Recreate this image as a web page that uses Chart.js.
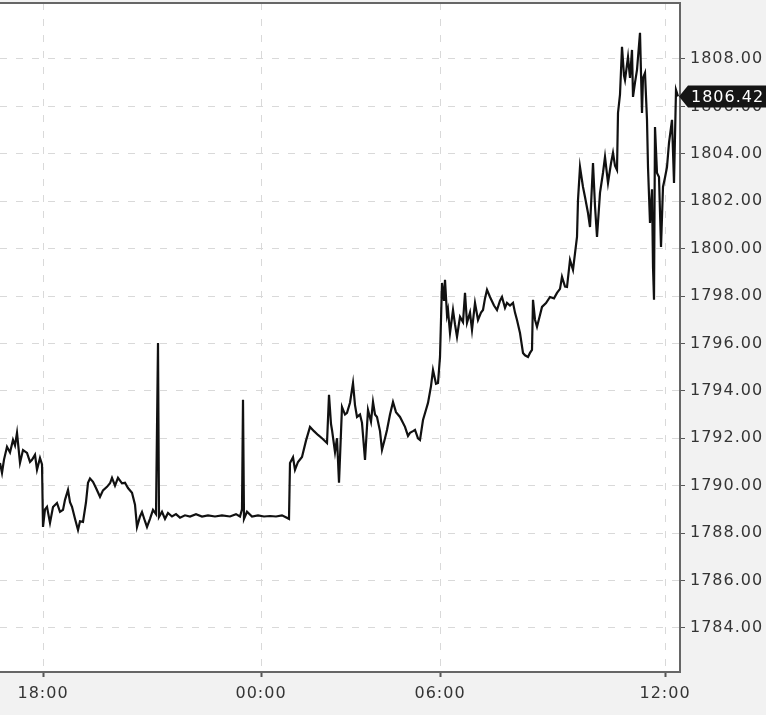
<!DOCTYPE html>
<html>
<head>
<meta charset="utf-8">
<script src="https://cdn.jsdelivr.net/npm/chart.js@4.4.1/dist/chart.umd.min.js"></script>
<style>
  body { margin: 0; background: #f2f2f2; }
  #priceChart { display: block; }
</style>
</head>
<body>
<canvas id="priceChart" width="766" height="715"></canvas>
<script>
// bar number along the session (x) and traded price at that bar
const barIndex = [
  0, 2, 4, 7, 10, 13, 15, 17, 20, 23, 27, 30, 32, 35, 37, 40, 42, 43, 45, 47,
  50, 53, 57, 60, 63, 65, 68, 70, 72, 75, 78, 80, 83, 86, 88, 90, 93, 96, 100, 103,
  107, 110, 112, 115, 118, 122, 125, 128, 132, 135, 137, 140, 142, 145, 147, 150, 153, 156, 158, 159,
  162, 165, 168, 172, 176, 180, 185, 190, 196, 202, 208, 215, 222, 230, 236, 240, 242, 243, 244, 247,
  252, 258, 264, 270, 276, 282, 289, 290, 293, 295, 298, 302, 306, 310, 314, 318, 322, 327, 329, 331,
  332, 335, 337, 339, 342, 345, 347, 350, 353, 355, 357, 360, 362, 365, 368, 371, 373, 375, 377, 380,
  382, 385, 387, 390, 393, 396, 400, 405, 408, 410, 413, 415, 418, 420, 423, 426, 428, 431, 433, 436,
  438, 440, 442, 444, 445, 447, 448, 450, 453, 455, 457, 460, 463, 465, 467, 470, 472, 475, 478, 481,
  483, 485, 487, 490, 494, 497, 500, 502, 505, 507, 510, 513, 515, 517, 520, 523, 525, 528, 530, 532,
  533, 535, 537, 540, 542, 546, 550, 554, 557, 560, 562, 565, 567, 570, 573, 575, 577, 578, 580, 583,
  585, 588, 590, 593, 595, 597, 600, 603, 605, 608, 611, 613, 615, 617, 618, 620, 622, 624, 625, 628,
  630, 632, 633, 635, 637, 640, 642, 643, 645, 647, 648, 650, 652, 653, 654, 655, 657, 659, 661, 663,
  665, 667, 669, 672, 674, 676, 678
];
const closePrice = [
  1790.96, 1790.54, 1791.10, 1791.64, 1791.40, 1791.93, 1791.70, 1792.23, 1790.96, 1791.50, 1791.38, 1791.00, 1791.09, 1791.30, 1790.67, 1791.17, 1790.90, 1788.26, 1789.00, 1789.11,
  1788.43, 1789.10, 1789.27, 1788.90, 1788.98, 1789.40, 1789.82, 1789.30, 1789.11, 1788.60, 1788.13, 1788.50, 1788.47, 1789.30, 1790.12, 1790.30, 1790.16, 1789.90, 1789.53, 1789.80,
  1789.95, 1790.10, 1790.33, 1790.00, 1790.33, 1790.10, 1790.12, 1789.90, 1789.70, 1789.20, 1788.26, 1788.70, 1788.89, 1788.50, 1788.26, 1788.60, 1788.98, 1788.80, 1796.02, 1788.68,
  1788.90, 1788.60, 1788.85, 1788.70, 1788.80, 1788.65, 1788.75, 1788.70, 1788.80, 1788.70, 1788.75, 1788.70, 1788.75, 1788.70, 1788.80, 1788.70, 1789.00, 1793.62, 1788.60, 1788.90,
  1788.70, 1788.75, 1788.70, 1788.72, 1788.70, 1788.75, 1788.60, 1790.96, 1791.20, 1790.67, 1791.00, 1791.21, 1791.90, 1792.48, 1792.30, 1792.14, 1792.00, 1791.80, 1793.83, 1792.60,
  1792.35, 1791.42, 1792.00, 1790.12, 1793.32, 1793.00, 1793.07, 1793.50, 1794.33, 1793.40, 1792.90, 1793.00, 1792.65, 1791.09, 1793.20, 1792.70, 1793.53, 1793.00, 1792.90, 1792.30,
  1791.51, 1792.00, 1792.35, 1793.00, 1793.53, 1793.10, 1792.90, 1792.48, 1792.10, 1792.23, 1792.30, 1792.35, 1792.00, 1791.93, 1792.77, 1793.20, 1793.49, 1794.20, 1794.88, 1794.30,
  1794.33, 1795.43, 1798.55, 1797.80, 1798.68, 1797.20, 1797.41, 1796.44, 1797.41, 1796.80, 1796.28, 1797.12, 1796.90, 1798.13, 1796.87, 1797.30, 1796.57, 1797.71, 1796.99, 1797.30,
  1797.41, 1797.90, 1798.26, 1797.96, 1797.60, 1797.41, 1797.80, 1797.96, 1797.50, 1797.71, 1797.60, 1797.71, 1797.30, 1796.99, 1796.44, 1795.60, 1795.50, 1795.43, 1795.60, 1795.73,
  1797.84, 1797.00, 1796.70, 1797.20, 1797.54, 1797.70, 1797.96, 1797.90, 1798.13, 1798.30, 1798.81, 1798.40, 1798.38, 1799.52, 1799.10, 1799.80, 1800.49, 1802.05, 1803.44, 1802.60,
  1802.18, 1801.50, 1800.91, 1803.61, 1801.80, 1800.49, 1802.35, 1803.20, 1803.87, 1802.77, 1803.60, 1804.04, 1803.50, 1803.32, 1805.72, 1806.50, 1808.51, 1807.30, 1807.11, 1808.08,
  1807.20, 1808.38, 1806.40, 1807.00, 1807.54, 1809.10, 1805.72, 1807.20, 1807.41, 1805.43, 1803.44, 1801.08, 1802.50, 1799.23, 1797.84, 1805.13, 1803.19, 1803.02, 1800.07, 1802.60,
  1803.00, 1803.44, 1804.46, 1805.43, 1802.77, 1806.69, 1806.42
];

// hour marks on the time axis (bar number where each hour starts)
const hourBars = [43, 261, 440, 665];
const hourLabels = ['18:00', '00:00', '06:00', '12:00'];
const priceTicks = [1784, 1786, 1788, 1790, 1792, 1794, 1796, 1798, 1800, 1802, 1804, 1806, 1808];

const axisFont = { family: 'DejaVu Sans', size: 16 };

// white plot area, top frame line and the last price marker
const plotFrame = {
  id: 'plotFrame',
  beforeDraw(chart) {
    const { ctx, chartArea: a } = chart;
    ctx.letterSpacing = '1px';
    ctx.save();
    ctx.fillStyle = '#f2f2f2';
    ctx.fillRect(0, 0, chart.width, chart.height);
    ctx.fillStyle = '#ffffff';
    ctx.fillRect(a.left, a.top, a.right - a.left, a.bottom - a.top);
    ctx.restore();
  },
  afterDraw(chart) {
    const { ctx, chartArea: a } = chart;
    const yScale = chart.scales.y;
    ctx.save();
    ctx.strokeStyle = '#666666';
    ctx.lineWidth = 2;
    ctx.beginPath();
    ctx.moveTo(a.left, a.top);
    ctx.lineTo(a.right, a.top);
    ctx.stroke();

    const last = closePrice[closePrice.length - 1];
    const y = yScale.getPixelForValue(last);
    const x0 = a.right - 1;
    ctx.fillStyle = '#151515';
    ctx.beginPath();
    ctx.moveTo(x0, y);
    ctx.lineTo(x0 + 9, y - 11);
    ctx.lineTo(chart.width, y - 11);
    ctx.lineTo(chart.width, y + 11);
    ctx.lineTo(x0 + 9, y + 11);
    ctx.closePath();
    ctx.fill();
    ctx.fillStyle = '#ffffff';
    ctx.font = '16px "DejaVu Sans"';
    ctx.textBaseline = 'middle';
    ctx.textAlign = 'left';
    ctx.fillText(last.toFixed(2), a.right + 11, y + 1);
    ctx.restore();
  }
};

new Chart(document.getElementById('priceChart'), {
  type: 'line',
  data: {
    datasets: [{
      label: 'Price',
      data: barIndex.map((b, i) => ({ x: b, y: closePrice[i] })),
      borderColor: '#111111',
      borderWidth: 2.2,
      pointRadius: 0,
      tension: 0,
      fill: false
    }]
  },
  options: {
    responsive: false,
    animation: false,
    layout: { padding: { top: 3, left: 0, right: 0, bottom: 0 } },
    plugins: {
      legend: { display: false },
      tooltip: { enabled: false }
    },
    scales: {
      x: {
        type: 'linear',
        min: 0,
        max: 680,
        afterBuildTicks: scale => {
          scale.ticks = hourBars.map(v => ({ value: v }));
        },
        afterFit: scale => {
          scale.height = 43;
          scale.paddingLeft = 0;
          scale.paddingRight = 0;
        },
        ticks: {
          autoSkip: false,
          maxRotation: 0,
          padding: 7,
          color: '#353535',
          font: axisFont,
          callback: value => hourLabels[hourBars.indexOf(value)]
        },
        grid: {
          color: '#d9d9d9',
          lineWidth: 1,
          tickLength: 5,
          tickColor: '#555555',
          tickWidth: 2
        },
        border: { color: '#666666', width: 2, dash: [7, 9] }
      },
      y: {
        position: 'right',
        min: 1782.14,
        max: 1810.36,
        afterBuildTicks: scale => {
          scale.ticks = priceTicks.map(v => ({ value: v }));
        },
        afterFit: scale => {
          scale.width = 86;
          scale.paddingTop = 0;
          scale.paddingBottom = 0;
        },
        ticks: {
          padding: 5,
          color: '#353535',
          font: axisFont,
          callback: value => value.toFixed(2)
        },
        grid: {
          color: '#d9d9d9',
          lineWidth: 1,
          tickLength: 5,
          tickColor: '#555555',
          tickWidth: 1
        },
        border: { color: '#666666', width: 2, dash: [7, 9] }
      }
    }
  },
  plugins: [plotFrame]
});
</script>
</body>
</html>
